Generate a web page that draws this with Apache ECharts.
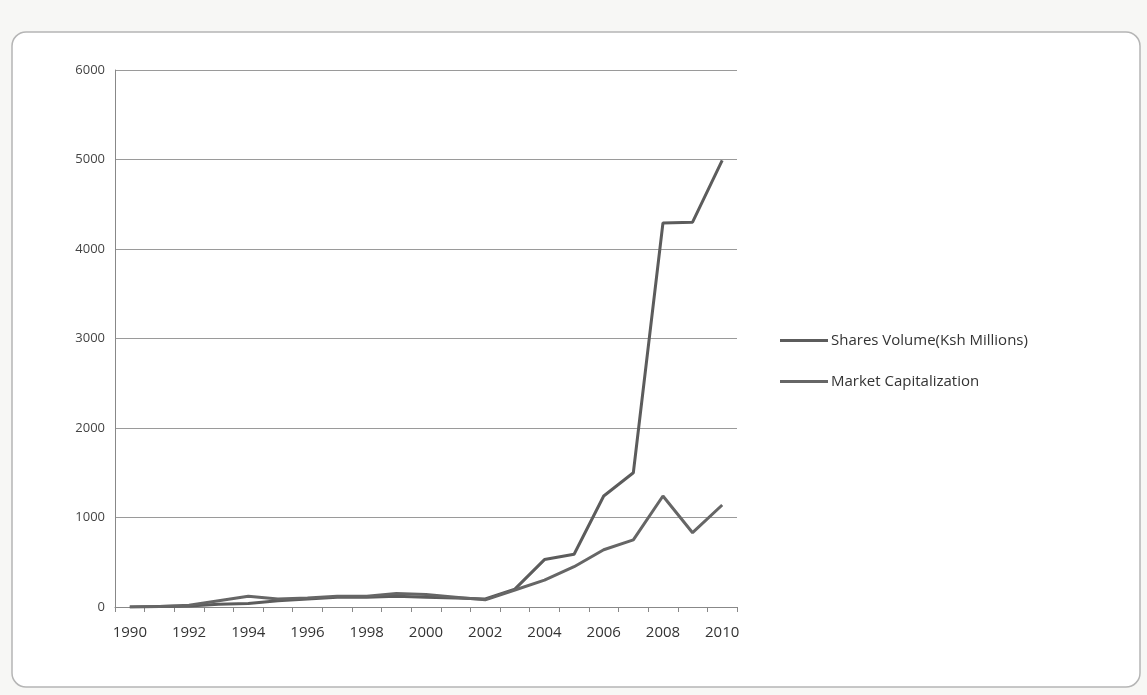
<!DOCTYPE html>
<html>
<head>
<meta charset="utf-8">
<script src="https://cdn.jsdelivr.net/npm/echarts@6/dist/echarts.min.js"></script>
<style>
  html, body { margin: 0; padding: 0; background: #f7f7f5; }
  #chart { width: 1147px; height: 695px; }
</style>
</head>
<body>
<div id="chart"></div>
<script>
const years = ['1990', '1991', '1992', '1993', '1994', '1995', '1996', '1997', '1998', '1999', '2000',
  '2001', '2002', '2003', '2004', '2005', '2006', '2007', '2008', '2009', '2010']

// values
const sharesVolume = [0, 5, 10, 30, 40, 70, 90, 110, 110, 120, 110,
  100, 90, 200, 530, 590, 1240, 1500, 4290, 4300, 4990]
const marketCap = [0, 5, 20, 70, 120, 90, 100, 120, 120, 150, 140,
  110, 80, 190, 300, 450, 640, 750, 1240, 830, 1140]

const yTicks = [0, 1000, 2000, 3000, 4000, 5000, 6000]

const chart = echarts.init(document.getElementById('chart'))

const option = {
  backgroundColor: '#f7f7f5',
  animation: false,
  textStyle: { fontFamily: 'Open Sans, Lato, sans-serif', color: '#333' },
  graphic: [
    {
      type: 'rect',
      shape: { x: 12, y: 32, width: 1128, height: 655, r: 14 },
      style: { fill: '#ffffff', stroke: '#b5b5b5', lineWidth: 1.5 },
      z: -10,
    },
  ],
  legend: {
    orient: 'vertical',
    left: 775,
    top: 328,
    itemWidth: 48,
    itemHeight: 3,
    itemGap: 26,
    icon: 'rect',
    textStyle: { fontSize: 15, color: '#333', padding: [0, 0, 0, -2] },
    data: ['Shares Volume(Ksh Millions)', 'Market Capitalization'],
  },
  grid: {
    left: 115,
    right: 410,
    top: 70,
    bottom: 88,
  },
  xAxis: {
    type: 'category',
    data: years,
    boundaryGap: true,
    axisLine: { lineStyle: { color: '#888', width: 1 } },
    axisTick: { show: true, interval: 0, length: 5, lineStyle: { color: '#888' } },
    axisLabel: { interval: 1, fontSize: 15, color: '#333', margin: 18 },
  },
  yAxis: {
    type: 'value',
    min: yTicks[0],
    max: yTicks[yTicks.length - 1],
    interval: 1000,
    axisLine: { show: true, lineStyle: { color: '#888', width: 1 } },
    axisTick: { show: false },
    axisLabel: { fontSize: 13, color: '#444', margin: 10, formatter: (v) => String(v) },
    splitLine: { lineStyle: { color: '#9a9a9a', width: 1.2 } },
  },
  series: [
    {
      name: 'Shares Volume(Ksh Millions)',
      type: 'line',
      data: sharesVolume,
      symbol: 'none',
      lineStyle: { color: '#5c5c5c', width: 3 },
      itemStyle: { color: '#5c5c5c' },
    },
    {
      name: 'Market Capitalization',
      type: 'line',
      data: marketCap,
      symbol: 'none',
      lineStyle: { color: '#666666', width: 3 },
      itemStyle: { color: '#666666' },
    },
  ],
}

chart.setOption(option)
</script>
</body>
</html>
